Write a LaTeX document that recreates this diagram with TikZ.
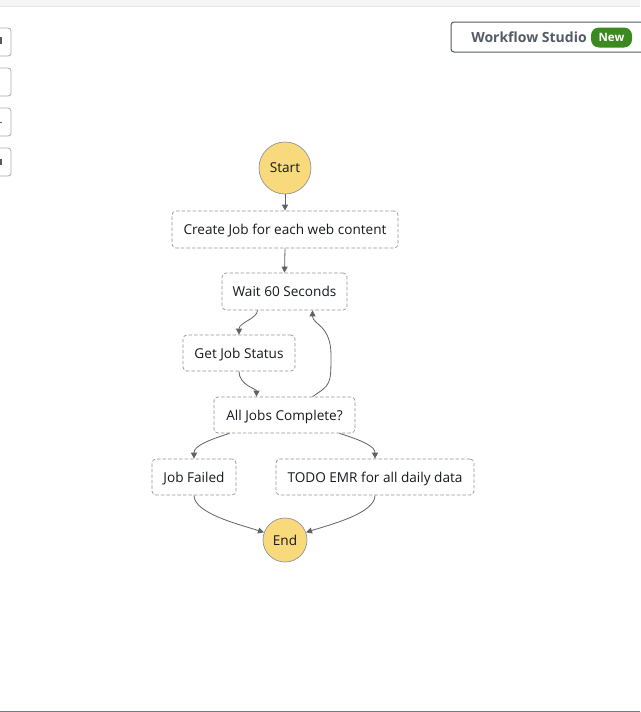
\documentclass[tikz,border=0pt]{standalone}
\usepackage{fontspec}
\setmainfont{Open Sans}
\usetikzlibrary{arrows.meta}
\definecolor{edge}{HTML}{5F6368}
\definecolor{dash}{HTML}{8F959B}
\definecolor{startfill}{HTML}{F8D97C}
\definecolor{txt}{HTML}{16191F}
\definecolor{btn}{HTML}{545B64}
\definecolor{newgreen}{HTML}{3B891F}
\begin{document}
\begin{tikzpicture}[x=1pt,y=-1pt,
  statebox/.style={draw=dash, dash pattern=on 3.5pt off 2pt, line width=0.7pt, rounded corners=4pt, fill=white, inner sep=0pt, text depth=0pt, font=\fontsize{13.6}{15}\selectfont, text=txt},
  terminal/.style={circle, draw=dash, line width=0.7pt, fill=startfill, inner sep=0pt, text depth=0pt, font=\fontsize{13.6}{15}\selectfont, text=txt},
  conn/.style={draw=edge, line width=0.8pt, -{Triangle[length=6pt,width=6pt]}},
  sidebtn/.style={draw=dash!80, rounded corners=3pt, line width=0.8pt}]
\useasboundingbox (0,0) rectangle (640,712);
\fill[white] (0,0) rectangle (640,712);
% top strip
\fill[black!4] (0,0) rectangle (640,6);
\draw[black!10] (0,6) -- (640,6);
% bottom line
\draw[btn!80, line width=1pt] (0,711.5) -- (640,711.5);
% left side buttons
\foreach \y in {28,68,108,148} {
  \draw[sidebtn] (-10,\y) rectangle (11,\y+28);
}
\fill[btn] (0,37) rectangle (2,44);
\fill[btn] (0,122) rectangle (2,123);
\fill[btn] (0,159) rectangle (2,165);
% Workflow Studio button
\draw[btn, line width=1pt, rounded corners=3pt] (451,22) rectangle (650,52);
\node[font=\fontsize{14}{16}\selectfont\bfseries, text=btn, text depth=0pt, anchor=center] (ws) at (529,37.5) {Workflow Studio};
\node[fill=newgreen, rounded corners=8pt, minimum width=41pt, minimum height=20pt, inner sep=0pt, text=white, text depth=0pt, font=\fontsize{11.5}{13}\selectfont\bfseries] (new) at (611.5,37.5) {New};
% states
\node[terminal, minimum size=52pt] (start) at (285,168) {Start};
\node[statebox, minimum width=226pt, minimum height=37pt] (create) at (285,229.5) {Create Job for each web content};
\node[statebox, minimum width=125pt, minimum height=37pt] (wait) at (284.5,291.5) {Wait 60 Seconds};
\node[statebox, minimum width=112pt, minimum height=36pt] (status) at (239,353) {Get Job Status};
\node[statebox, minimum width=141pt, minimum height=36pt] (check) at (284.5,415) {All Jobs Complete?};
\node[statebox, minimum width=84pt, minimum height=36pt] (failed) at (194,477) {Job Failed};
\node[statebox, minimum width=198pt, minimum height=36pt] (todo) at (375,477) {TODO EMR for all daily data};
\node[terminal, minimum size=44pt] (end) at (285,540) {End};
% connectors
\draw[conn] (start.south) -- (create.north);
\draw[conn] (create.south) -- (wait.north);
\draw[conn] ([xshift=-27pt]wait.south) .. controls +(0,8) and +(0,-12) .. (status.north);
\draw[conn] (status.south) .. controls +(0,14) and +(0,-8) .. ([xshift=-28pt]check.north);
\draw[conn] ([xshift=28pt]check.north) .. controls +(18,-12) and +(0,30) .. (331,355) .. controls +(0,-30) and +(0,14) .. ([xshift=28pt]wait.south);
\draw[conn] ([xshift=-55pt]check.south) .. controls +(-25,8) and +(0,-12) .. (failed.north);
\draw[conn] ([xshift=55pt]check.south) .. controls +(25,8) and +(0,-12) .. (todo.north);
\draw[conn] (failed.south) .. controls +(0,18) and +(-25,-8) .. (end.160);
\draw[conn] (todo.south) .. controls +(0,18) and +(25,-8) .. (end.20);
\end{tikzpicture}
\end{document}
